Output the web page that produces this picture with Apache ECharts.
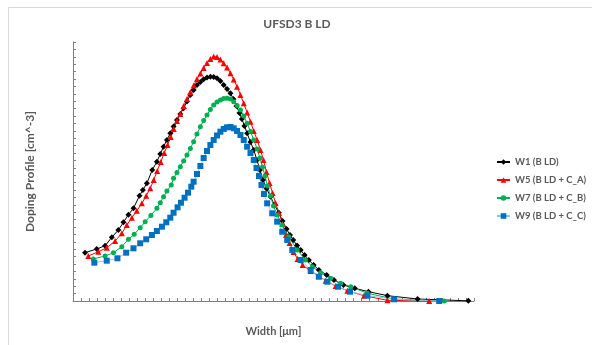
<!DOCTYPE html>
<html>
<head>
<meta charset="utf-8">
<script src="https://cdn.jsdelivr.net/npm/echarts@6/dist/echarts.min.js"></script>
<style>
  html, body { margin: 0; padding: 0; background: #fff; }
  #chart { width: 592px; height: 345px; }
</style>
</head>
<body>
<div id="chart"></div>
<script>
// series names
const seriesNames = ["W1 (B LD)", "W5 (B LD + C_A)", "W7 (B LD + C_B)", "W9 (B LD + C_C)"];

// width (arbitrary units, no tick labels on the original)
const w1X = [1.5, 2.96, 4.0, 4.84, 5.66, 6.29, 6.91, 7.54, 8.29, 8.71, 9.21, 9.88, 10.46, 10.88, 11.29, 11.71, 12.13, 12.54, 12.96, 13.38, 13.79, 14.21, 14.63, 15.04, 15.46, 15.88, 16.29, 16.71, 17.13, 17.54, 17.96, 18.38, 18.79, 19.21, 19.63, 20.0, 20.38, 20.75, 21.06, 21.38, 21.71, 22.13, 22.54, 22.94, 23.31, 23.69, 24.13, 24.63, 25.13, 25.66, 26.13, 26.63, 27.06, 27.46, 27.94, 28.38, 28.88, 29.41, 30.0, 30.66, 31.63, 32.54, 33.71, 35.13, 36.84, 39.21, 42.96, 49.29];
const w1Y = [6.53, 7.03, 7.47, 8.61, 9.59, 10.64, 11.66, 12.53, 14.23, 15.0, 15.91, 17.7, 18.82, 19.86, 20.85, 21.76, 22.66, 23.58, 24.46, 25.27, 26.04, 26.96, 27.84, 28.51, 29.19, 29.59, 29.96, 30.2, 30.31, 30.27, 30.09, 29.73, 29.19, 28.65, 28.07, 27.3, 26.35, 25.41, 24.59, 23.65, 22.66, 21.49, 20.41, 19.05, 17.7, 16.35, 15.2, 14.09, 12.97, 11.93, 10.81, 9.73, 8.92, 8.24, 7.5, 6.89, 6.22, 5.54, 4.86, 4.19, 3.51, 2.84, 2.16, 1.72, 1.26, 0.72, 0.27, 0.02];

const w5X = [1.91, 3.16, 4.21, 5.25, 6.09, 6.71, 7.34, 7.96, 8.59, 9.13, 9.63, 10.06, 10.5, 10.94, 11.38, 11.79, 12.19, 12.56, 12.96, 13.38, 13.79, 14.21, 14.63, 15.04, 15.46, 15.88, 16.29, 16.71, 17.13, 17.54, 17.96, 18.38, 18.79, 19.21, 19.63, 20.04, 20.46, 20.88, 21.29, 21.71, 22.13, 22.54, 22.96, 23.38, 23.75, 24.13, 24.5, 24.88, 25.25, 25.69, 26.13, 26.56, 27.0, 27.5, 28.0, 28.63, 29.63, 30.63, 31.5, 32.75, 34.21, 36.29, 39.21, 44.41];
const w5Y = [6.08, 6.66, 7.2, 8.11, 9.15, 10.27, 11.26, 12.2, 13.2, 14.23, 15.23, 16.35, 17.57, 18.78, 20.0, 21.08, 22.16, 23.24, 24.32, 25.27, 26.35, 27.3, 28.24, 29.12, 30.0, 30.74, 31.49, 32.16, 32.7, 33.04, 32.97, 32.64, 32.12, 31.55, 30.77, 29.93, 28.96, 27.84, 26.72, 25.47, 24.23, 22.97, 21.76, 20.41, 19.05, 17.43, 15.95, 14.59, 13.24, 11.89, 10.41, 8.92, 7.84, 6.62, 5.68, 4.86, 4.05, 3.38, 2.74, 2.03, 1.39, 0.72, 0.09, 0.0];

const w7X = [2.54, 4.0, 5.04, 6.09, 6.91, 7.63, 8.38, 9.0, 9.71, 10.46, 10.88, 11.29, 11.71, 12.25, 12.54, 12.96, 13.38, 13.79, 14.21, 14.63, 15.04, 15.46, 15.88, 16.29, 16.71, 17.13, 17.54, 17.96, 18.38, 18.79, 19.21, 19.63, 20.04, 20.46, 20.88, 21.29, 21.71, 22.13, 22.54, 22.96, 23.31, 23.63, 23.94, 24.25, 24.63, 25.0, 25.46, 26.09, 26.91, 27.96, 29.0, 29.84, 30.88, 32.13, 33.38, 34.63, 36.71, 40.04, 46.29];
const w7Y = [5.68, 6.08, 6.53, 7.34, 8.34, 9.01, 9.91, 10.72, 11.55, 12.53, 13.28, 14.09, 14.86, 15.68, 16.58, 17.36, 18.15, 18.92, 19.73, 20.61, 21.53, 22.57, 23.55, 24.39, 25.14, 25.88, 26.49, 26.89, 27.16, 27.36, 27.39, 27.3, 26.93, 26.42, 25.81, 25.0, 24.01, 22.91, 21.76, 20.54, 19.32, 18.11, 16.89, 15.54, 14.19, 12.84, 11.62, 10.27, 8.69, 6.89, 5.54, 4.64, 3.82, 3.07, 2.39, 1.93, 1.04, 0.27, 0.0];

const w9X = [2.66, 4.21, 5.54, 6.63, 7.54, 8.38, 9.13, 9.84, 10.46, 11.09, 11.63, 12.13, 12.54, 13.04, 13.46, 13.91, 14.34, 14.75, 15.04, 15.46, 15.88, 16.29, 16.71, 17.13, 17.54, 17.96, 18.38, 18.79, 19.21, 19.63, 20.04, 20.46, 20.88, 21.29, 21.71, 22.13, 22.54, 22.88, 23.19, 23.5, 23.81, 24.21, 24.84, 25.46, 26.09, 26.71, 27.34, 28.38, 29.63, 30.66, 31.71, 33.04, 34.54, 36.71, 40.04, 45.66];
const w9Y = [5.18, 5.45, 5.77, 6.53, 7.12, 7.8, 8.34, 8.92, 9.46, 10.04, 10.64, 11.26, 11.93, 12.66, 13.28, 13.96, 14.64, 15.45, 16.12, 17.16, 18.24, 19.32, 20.27, 21.08, 21.76, 22.36, 22.88, 23.24, 23.47, 23.51, 23.34, 22.97, 22.43, 21.76, 20.85, 20.0, 19.05, 17.97, 16.89, 15.68, 14.46, 13.2, 11.85, 10.72, 9.36, 8.24, 6.89, 5.54, 4.19, 3.28, 2.61, 1.93, 1.26, 0.72, 0.23, 0.0];

const xs = [w1X, w5X, w7X, w9X];
const ys = [w1Y, w5Y, w7Y, w9Y];
const markerColors = ["#000000", "#ff0000", "#00b050", "#0070c0"];
const lineColors = ["#000000", "#ff0000", "#00b050", "#86c8e0"];
const symbols = ["diamond", "triangle", "circle", "rect"];
const symbolSizes = [6, 6, 5, 6];

const textColor = "#595959";
const fontFamily = "Lato, 'Open Sans', sans-serif";

const chart = echarts.init(document.getElementById("chart"), null, { renderer: "canvas" });

const series = seriesNames.map(function (name, i) {
  return {
    name: name,
    type: "line",
    data: xs[i].map(function (x, k) { return [x, ys[i][k]]; }),
    symbol: symbols[i],
    symbolSize: symbolSizes[i],
    showAllSymbol: true,
    clip: false,
    lineStyle: { color: lineColors[i], width: 1 },
    itemStyle: { color: markerColors[i], borderWidth: 0 },
    emphasis: { disabled: true },
    animation: false,
  };
});

chart.setOption({
  animation: false,
  title: {
    text: "UFSD3 B LD",
    left: 292,
    top: 13,
    textAlign: "center",
    textStyle: { color: textColor, fontSize: 12, fontWeight: "bold", fontFamily: fontFamily },
  },
  graphic: [
    {
      type: "rect",
      shape: { x: 8.5, y: 7.5, width: 700, height: 400 },
      style: { fill: null, stroke: "#d9d9d9", lineWidth: 1 },
      silent: true,
    },
  ],
  legend: {
    orient: "vertical",
    left: 496,
    top: 157,
    padding: 0,
    itemGap: 8,
    itemWidth: 13,
    itemHeight: 7,
    textStyle: { color: textColor, fontSize: 9.5, fontWeight: "bold", fontFamily: fontFamily },
    data: seriesNames,
  },
  grid: { left: 73, top: 42, right: 118, bottom: 44 },
  xAxis: {
    type: "value",
    min: 0,
    max: 50,
    interval: 1,
    name: "Width [μm]",
    nameLocation: "middle",
    nameGap: 25,
    nameTextStyle: { color: textColor, fontSize: 11, fontWeight: "bold", fontFamily: fontFamily },
    axisLine: { lineStyle: { color: "#7f7f7f", width: 1 } },
    axisTick: { show: true, inside: true, length: 3, lineStyle: { color: "#7f7f7f" } },
    axisLabel: { show: false },
    splitLine: { show: false },
  },
  yAxis: {
    type: "value",
    min: 0,
    max: 35,
    interval: 1,
    name: "Doping Profile [cm^-3]",
    nameLocation: "middle",
    nameGap: 37,
    nameTextStyle: { color: textColor, fontSize: 12, fontWeight: "bold", fontFamily: fontFamily },
    axisLine: { show: true, lineStyle: { color: "#7f7f7f", width: 1 } },
    axisTick: { show: true, inside: true, length: 3, lineStyle: { color: "#7f7f7f" } },
    axisLabel: { show: false },
    splitLine: { show: false },
  },
  series: series,
});
</script>
</body>
</html>
